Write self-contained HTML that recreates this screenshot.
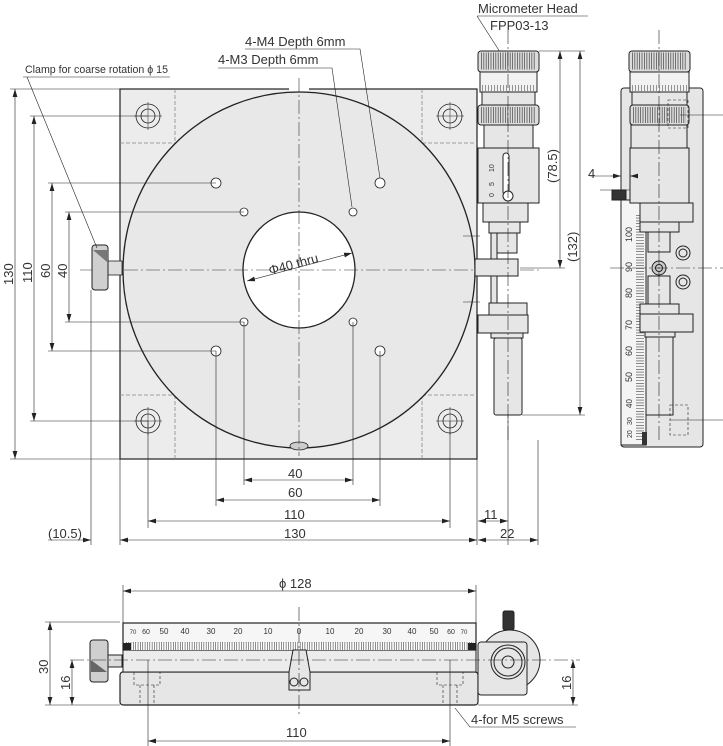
<!DOCTYPE html>
<html><head><meta charset="utf-8"><style>
html,body{margin:0;padding:0;background:#fff;width:723px;height:746px;overflow:hidden}
svg{display:block}
text{font-family:"Liberation Sans",sans-serif;fill:#333}
</style></head><body>
<svg width="723" height="746" viewBox="0 0 723 746" xmlns="http://www.w3.org/2000/svg">
<defs>
<marker id="a" viewBox="0 0 10 6" refX="10" refY="3" markerWidth="8" markerHeight="5" orient="auto-start-reverse" markerUnits="userSpaceOnUse"><path d="M0,0L10,3L0,6z" fill="#222"/></marker>
</defs>
<g stroke="#222" fill="none" stroke-width="0.8">
<!-- ===== TOP VIEW ===== -->
<rect x="120" y="89" width="357" height="370" fill="#ececec" stroke-width="1.2"/>
<line x1="120" y1="89" x2="477" y2="89" stroke="#fff" stroke-width="0"/>
<g stroke="#888" stroke-dasharray="4,2">
<line x1="175" y1="89" x2="175" y2="143"/><line x1="120" y1="143" x2="175" y2="143"/>
<line x1="422" y1="89" x2="422" y2="143"/><line x1="422" y1="143" x2="477" y2="143"/>
<line x1="175" y1="395" x2="175" y2="459"/><line x1="120" y1="395" x2="175" y2="395"/>
<line x1="422" y1="395" x2="422" y2="459"/><line x1="422" y1="395" x2="477" y2="395"/>
</g>
<rect x="289" y="86" width="20" height="5" fill="#fff" stroke="none"/>
<ellipse cx="299" cy="270" rx="176" ry="178" fill="#e8e8e8" stroke-width="1.3"/>
<ellipse cx="299" cy="270" rx="56" ry="58" fill="#fff" stroke-width="1.3"/>
<!-- counterbores -->
<g>
<circle cx="148" cy="116" r="12"/><circle cx="148" cy="116" r="7"/>
<circle cx="450" cy="116" r="12"/><circle cx="450" cy="116" r="7"/>
<circle cx="148" cy="421" r="12"/><circle cx="148" cy="421" r="7"/>
<circle cx="450" cy="421" r="12"/><circle cx="450" cy="421" r="7"/>
<circle cx="216" cy="183" r="5" fill="#fff"/><circle cx="380" cy="183" r="5" fill="#fff"/>
<circle cx="216" cy="351" r="5" fill="#fff"/><circle cx="380" cy="351" r="5" fill="#fff"/>
<circle cx="244" cy="212" r="4" fill="#fff"/><circle cx="353" cy="212" r="4" fill="#fff"/>
<circle cx="244" cy="322" r="4" fill="#fff"/><circle cx="353" cy="322" r="4" fill="#fff"/>
</g>
<g stroke-width="0.5">
<line x1="134" y1="116" x2="162" y2="116"/><line x1="148" y1="102" x2="148" y2="130"/>
<line x1="436" y1="116" x2="464" y2="116"/><line x1="450" y1="102" x2="450" y2="130"/>
<line x1="134" y1="421" x2="162" y2="421"/><line x1="148" y1="407" x2="148" y2="435"/>
<line x1="436" y1="421" x2="464" y2="421"/><line x1="450" y1="407" x2="450" y2="435"/>
</g>
<!-- bottom notch -->
<ellipse cx="299" cy="446" rx="9" ry="4" fill="#ccc"/>
<!-- centerlines -->
<g stroke="#333" stroke-width="0.6" stroke-dasharray="14,3,2,3">
<line x1="299" y1="78" x2="299" y2="456"/>
<line x1="80" y1="270" x2="540" y2="270"/>
</g>
<!-- clamp knob -->
<rect x="108" y="261" width="14" height="14" fill="#ddd"/>
<rect x="92" y="245" width="16" height="45" rx="3" fill="#cfcfcf" stroke-width="1"/>
<path d="M93,250 L107,250 L107,262 Z" fill="#777" stroke="none"/>
<!-- left dims -->
<g stroke-width="0.6">
<line x1="10" y1="89" x2="120" y2="89"/><line x1="10" y1="459" x2="120" y2="459"/>
<line x1="30" y1="116" x2="148" y2="116"/><line x1="30" y1="421" x2="148" y2="421"/>
<line x1="48" y1="183" x2="216" y2="183"/><line x1="48" y1="351" x2="216" y2="351"/>
<line x1="65" y1="212" x2="244" y2="212"/><line x1="65" y1="322" x2="244" y2="322"/>
<line x1="15" y1="89" x2="15" y2="459" marker-start="url(#a)" marker-end="url(#a)"/>
<line x1="34" y1="116" x2="34" y2="421" marker-start="url(#a)" marker-end="url(#a)"/>
<line x1="52" y1="183" x2="52" y2="351" marker-start="url(#a)" marker-end="url(#a)"/>
<line x1="69" y1="212" x2="69" y2="322" marker-start="url(#a)" marker-end="url(#a)"/>
<!-- bottom dims -->
<line x1="120" y1="459" x2="120" y2="545"/><line x1="477" y1="459" x2="477" y2="545"/>
<line x1="91" y1="290" x2="91" y2="545"/>
<line x1="148" y1="421" x2="148" y2="528"/><line x1="450" y1="421" x2="450" y2="528"/>
<line x1="216" y1="351" x2="216" y2="506"/><line x1="380" y1="351" x2="380" y2="506"/>
<line x1="244" y1="322" x2="244" y2="485"/><line x1="353" y1="322" x2="353" y2="485"/>
<line x1="244" y1="480" x2="353" y2="480" marker-start="url(#a)" marker-end="url(#a)"/>
<line x1="216" y1="500" x2="380" y2="500" marker-start="url(#a)" marker-end="url(#a)"/>
<line x1="148" y1="521" x2="450" y2="521" marker-start="url(#a)" marker-end="url(#a)"/>
<line x1="120" y1="540" x2="477" y2="540" marker-start="url(#a)" marker-end="url(#a)"/>
<line x1="48" y1="540" x2="91" y2="540" marker-end="url(#a)"/>
<line x1="508" y1="415" x2="508" y2="545"/><line x1="538" y1="440" x2="538" y2="545"/>
<line x1="478" y1="521" x2="508" y2="521" marker-start="url(#a)" marker-end="url(#a)"/>
<line x1="478" y1="540" x2="538" y2="540" marker-start="url(#a)" marker-end="url(#a)"/>
<!-- phi40 -->
<line x1="247" y1="281" x2="352" y2="253" marker-start="url(#a)" marker-end="url(#a)"/>
<!-- leaders -->
<polyline points="23,77 170,77"/><line x1="27" y1="77" x2="97" y2="248"/>
<polyline points="245,49 360,49 380,178"/>
<polyline points="218,68 332,68 352,207"/>
<polyline points="477,16 588,16"/><line x1="477" y1="16" x2="500" y2="52"/>
</g>
<!-- ===== MICROMETER (front) ===== -->
<g stroke-width="1">
<rect x="478" y="51" width="61" height="21" rx="3" fill="#ddd"/>
<line x1="481" y1="61" x2="536" y2="61" stroke="#555" stroke-width="17" stroke-dasharray="0.8,1.6"/>
<rect x="480" y="72" width="57" height="20" fill="#f2f2f2"/>
<line x1="482" y1="88" x2="535" y2="88" stroke="#555" stroke-width="6" stroke-dasharray="0.6,2.4"/>
<rect x="482" y="92" width="53" height="13" fill="#e6e6e6"/>
<rect x="478" y="105" width="61" height="20" rx="3" fill="#ddd"/>
<line x1="481" y1="115" x2="536" y2="115" stroke="#555" stroke-width="16" stroke-dasharray="0.8,1.6"/>
<rect x="484" y="125" width="49" height="23" fill="#e6e6e6"/>
<rect x="478" y="148" width="61" height="55" fill="#e6e6e6"/>
<rect x="503" y="153" width="6" height="42" rx="3" fill="#fff"/>
<circle cx="508" cy="196" r="5" fill="#fff"/>
<rect x="483" y="203" width="45" height="19" fill="#e6e6e6"/>
<rect x="489" y="222" width="31" height="11" fill="#e6e6e6"/>
<rect x="497" y="233" width="20" height="20" fill="#e6e6e6"/>
<rect x="491" y="233" width="6" height="70" fill="#e6e6e6"/>
<rect x="475" y="259" width="43" height="17" fill="#e6e6e6"/>
<rect x="489" y="303" width="38" height="12" fill="#e6e6e6"/>
<rect x="478" y="315" width="50" height="18" fill="#e6e6e6"/>
<rect x="491" y="333" width="32" height="5" fill="#e6e6e6"/>
<rect x="494" y="338" width="28" height="77" rx="2" fill="#e6e6e6"/>
</g>
<g stroke-width="0.6">
<line x1="508" y1="30" x2="508" y2="440" stroke-dasharray="14,3,2,3"/>
<line x1="539" y1="51" x2="585" y2="51"/>
<line x1="520" y1="268" x2="565" y2="268"/>
<line x1="522" y1="415" x2="585" y2="415"/>
<line x1="560" y1="51" x2="560" y2="268" marker-start="url(#a)" marker-end="url(#a)"/>
<line x1="580" y1="51" x2="580" y2="415" marker-start="url(#a)" marker-end="url(#a)"/>
<line x1="463" y1="236" x2="480" y2="236"/><line x1="463" y1="302" x2="480" y2="302"/>
</g>
<!-- ===== SIDE VIEW ===== -->
<g stroke-width="1">
<rect x="621" y="88" width="82" height="359" rx="3" fill="#e6e6e6"/>
<rect x="621" y="200" width="25" height="245" fill="#f4f4f4"/>
<line x1="640" y1="215" x2="640" y2="440" stroke="#444" stroke-width="8" stroke-dasharray="0.6,2.2"/>
<rect x="642" y="432" width="5" height="13" fill="#333" stroke="none"/>
<rect x="629" y="51" width="61" height="21" rx="3" fill="#ddd"/>
<line x1="632" y1="61" x2="687" y2="61" stroke="#555" stroke-width="17" stroke-dasharray="0.8,1.6"/>
<rect x="630" y="72" width="59" height="20" fill="#f2f2f2"/>
<line x1="632" y1="88" x2="687" y2="88" stroke="#555" stroke-width="6" stroke-dasharray="0.6,2.4"/>
<rect x="632" y="92" width="55" height="13" fill="#e6e6e6"/>
<rect x="630" y="105" width="59" height="20" rx="3" fill="#ddd"/>
<line x1="633" y1="115" x2="686" y2="115" stroke="#555" stroke-width="16" stroke-dasharray="0.8,1.6"/>
<rect x="631" y="125" width="56" height="23" fill="#e6e6e6"/>
<rect x="630" y="148" width="59" height="55" fill="#e6e6e6"/>
<rect x="612" y="190" width="14" height="10" fill="#333"/>
<rect x="640" y="203" width="53" height="19" fill="#e6e6e6"/>
<rect x="640" y="222" width="39" height="10" fill="#e6e6e6"/>
<rect x="648" y="232" width="22" height="20" fill="#e6e6e6"/>
<rect x="648" y="276" width="22" height="28" fill="#e6e6e6"/>
<circle cx="659" cy="268" r="7" fill="#ccc"/><circle cx="659" cy="268" r="3.5"/>
<circle cx="683" cy="253" r="7"/><circle cx="683" cy="253" r="4"/>
<circle cx="683" cy="282" r="7"/><circle cx="683" cy="282" r="4"/>
<rect x="640" y="304" width="39" height="10" fill="#e6e6e6"/>
<rect x="640" y="314" width="53" height="18" fill="#e6e6e6"/>
<rect x="645" y="332" width="30" height="5" fill="#e6e6e6"/>
<rect x="646" y="337" width="27" height="78" fill="#e6e6e6"/>
</g>
<g stroke-width="0.6">
<line x1="659" y1="30" x2="659" y2="440" stroke-dasharray="14,3,2,3"/>
<line x1="610" y1="268" x2="723" y2="268" stroke-dasharray="14,3,2,3"/>
<line x1="680" y1="115" x2="723" y2="115"/><line x1="670" y1="420" x2="723" y2="420"/>
<rect x="668" y="100" width="20" height="28" stroke-dasharray="3,2"/>
<rect x="670" y="405" width="18" height="30" stroke-dasharray="3,2"/>
<line x1="610" y1="176" x2="621" y2="176" marker-end="url(#a)"/>
<line x1="636" y1="176" x2="630" y2="176" marker-end="url(#a)"/>
<line x1="610" y1="176" x2="590" y2="176"/>
<line x1="600" y1="190" x2="630" y2="190"/>
</g>
<g font-size="7" fill="#333" stroke="none">
<text transform="translate(632,242) rotate(-90)" font-size="9">100</text>
<text transform="translate(632,272) rotate(-90)" font-size="9">90</text>
<text transform="translate(632,298) rotate(-90)" font-size="9">80</text>
<text transform="translate(632,330) rotate(-90)" font-size="9">70</text>
<text transform="translate(632,356) rotate(-90)" font-size="9">60</text>
<text transform="translate(632,382) rotate(-90)" font-size="9">50</text>
<text transform="translate(632,408) rotate(-90)" font-size="8">40</text>
<text transform="translate(632,425) rotate(-90)" font-size="7">30</text>
<text transform="translate(632,438) rotate(-90)" font-size="7">20</text>
<text transform="translate(494,172) rotate(-90)">10</text>
<text transform="translate(494,186) rotate(-90)">5</text>
<text transform="translate(494,197) rotate(-90)">0</text>
</g>
<!-- ===== BOTTOM VIEW ===== -->
<g stroke-width="1">
<rect x="120" y="672" width="358" height="33" rx="3" fill="#e6e6e6" stroke-width="1.2"/>
<rect x="123" y="650" width="353" height="22" fill="#ececec"/>
<rect x="123" y="623" width="353" height="27" fill="#f6f6f6" stroke-width="1.2"/>
<rect x="123" y="643" width="353" height="7" fill="#fff" stroke="none"/>
<line x1="126" y1="646" x2="474" y2="646" stroke="#444" stroke-width="8" stroke-dasharray="0.6,1.75"/>
<rect x="123" y="643" width="8" height="7" fill="#222" stroke="none"/>
<rect x="468" y="643" width="8" height="7" fill="#222" stroke="none"/>
<path d="M293,650 L306,650 L310,672 L310,690 L289,690 L289,672 Z" fill="#e6e6e6"/>
<circle cx="294" cy="682" r="4"/><circle cx="304" cy="682" r="4"/>
<circle cx="510" cy="660" r="30" fill="#e6e6e6"/>
<rect x="478" y="642" width="49" height="53" rx="3" fill="#e6e6e6"/>
<circle cx="508" cy="662" r="17"/><circle cx="508" cy="662" r="14"/><circle cx="508" cy="662" r="6"/>
<rect x="503" y="611" width="11" height="19" rx="2" fill="#333"/>
<rect x="108" y="655" width="14" height="12" fill="#ddd"/>
<rect x="90" y="640" width="18" height="42" rx="3" fill="#cfcfcf"/>
<path d="M91,660 L107,672 L91,672 Z" fill="#666" stroke="none"/>
</g>
<g stroke-width="0.6">
<path d="M134,672 V685 H160 V672 M140,685 V705 M154,685 V705" stroke-dasharray="3,2"/>
<path d="M437,672 V685 H463 V672 M443,685 V705 M457,685 V705" stroke-dasharray="3,2"/>
<line x1="299" y1="607" x2="299" y2="716" stroke-dasharray="14,3,2,3"/>
<line x1="70" y1="660" x2="580" y2="660" stroke-dasharray="14,3,2,3"/>
<line x1="148" y1="660" x2="148" y2="746"/><line x1="450" y1="660" x2="450" y2="746"/>
<line x1="123" y1="585" x2="123" y2="623"/><line x1="476" y1="585" x2="476" y2="623"/>
<line x1="123" y1="591" x2="476" y2="591" marker-start="url(#a)" marker-end="url(#a)"/>
<line x1="148" y1="741" x2="450" y2="741" marker-start="url(#a)" marker-end="url(#a)"/>
<line x1="45" y1="622" x2="120" y2="622"/><line x1="45" y1="705" x2="120" y2="705"/>
<line x1="50" y1="622" x2="50" y2="705" marker-start="url(#a)" marker-end="url(#a)"/>
<line x1="72" y1="660" x2="72" y2="705" marker-start="url(#a)" marker-end="url(#a)"/>
<line x1="478" y1="705" x2="578" y2="705"/>
<line x1="573" y1="660" x2="573" y2="705" marker-start="url(#a)" marker-end="url(#a)"/>
<polyline points="455,708 470,727 576,727"/>
</g>
</g>
<!-- ===== TEXT ===== -->
<g font-size="13">
<text x="478" y="13">Micrometer Head</text>
<text x="490" y="30">FPP03-13</text>
<text x="245" y="46">4-M4 Depth 6mm</text>
<text x="218" y="64">4-M3 Depth 6mm</text>
<text x="25" y="73" font-size="11" textLength="143" lengthAdjust="spacingAndGlyphs">Clamp for coarse rotation ϕ 15</text>
<text transform="translate(270,275) rotate(-15)" font-size="13">Φ40 thru</text>
<text x="288" y="478">40</text>
<text x="288" y="497">60</text>
<text x="284" y="519">110</text>
<text x="284" y="538">130</text>
<text x="48" y="538">(10.5)</text>
<text x="484" y="519">11</text>
<text x="500" y="538">22</text>
<text x="588" y="178">4</text>
<text transform="translate(13,285) rotate(-90)">130</text>
<text transform="translate(32,283) rotate(-90)">110</text>
<text transform="translate(50,278) rotate(-90)">60</text>
<text transform="translate(67,278) rotate(-90)">40</text>
<text transform="translate(557,183) rotate(-90)">(78.5)</text>
<text transform="translate(577,262) rotate(-90)">(132)</text>
<text x="279" y="588">ϕ 128</text>
<text x="286" y="737">110</text>
<text transform="translate(48,674) rotate(-90)">30</text>
<text transform="translate(70,690) rotate(-90)">16</text>
<text transform="translate(571,690) rotate(-90)">16</text>
<text x="471" y="724">4-for M5 screws</text>
</g>
<g font-size="8" text-anchor="middle">
<text x="133" y="634" font-size="6">70</text><text x="146" y="634" font-size="7">60</text>
<text x="164" y="634">50</text><text x="185" y="634">40</text><text x="211" y="634">30</text>
<text x="238" y="634">20</text><text x="268" y="634">10</text><text x="299" y="634">0</text>
<text x="330" y="634">10</text><text x="359" y="634">20</text><text x="387" y="634">30</text>
<text x="412" y="634">40</text><text x="434" y="634">50</text><text x="451" y="634" font-size="7">60</text>
<text x="464" y="634" font-size="6">70</text>
</g>
</svg>
</body></html>
